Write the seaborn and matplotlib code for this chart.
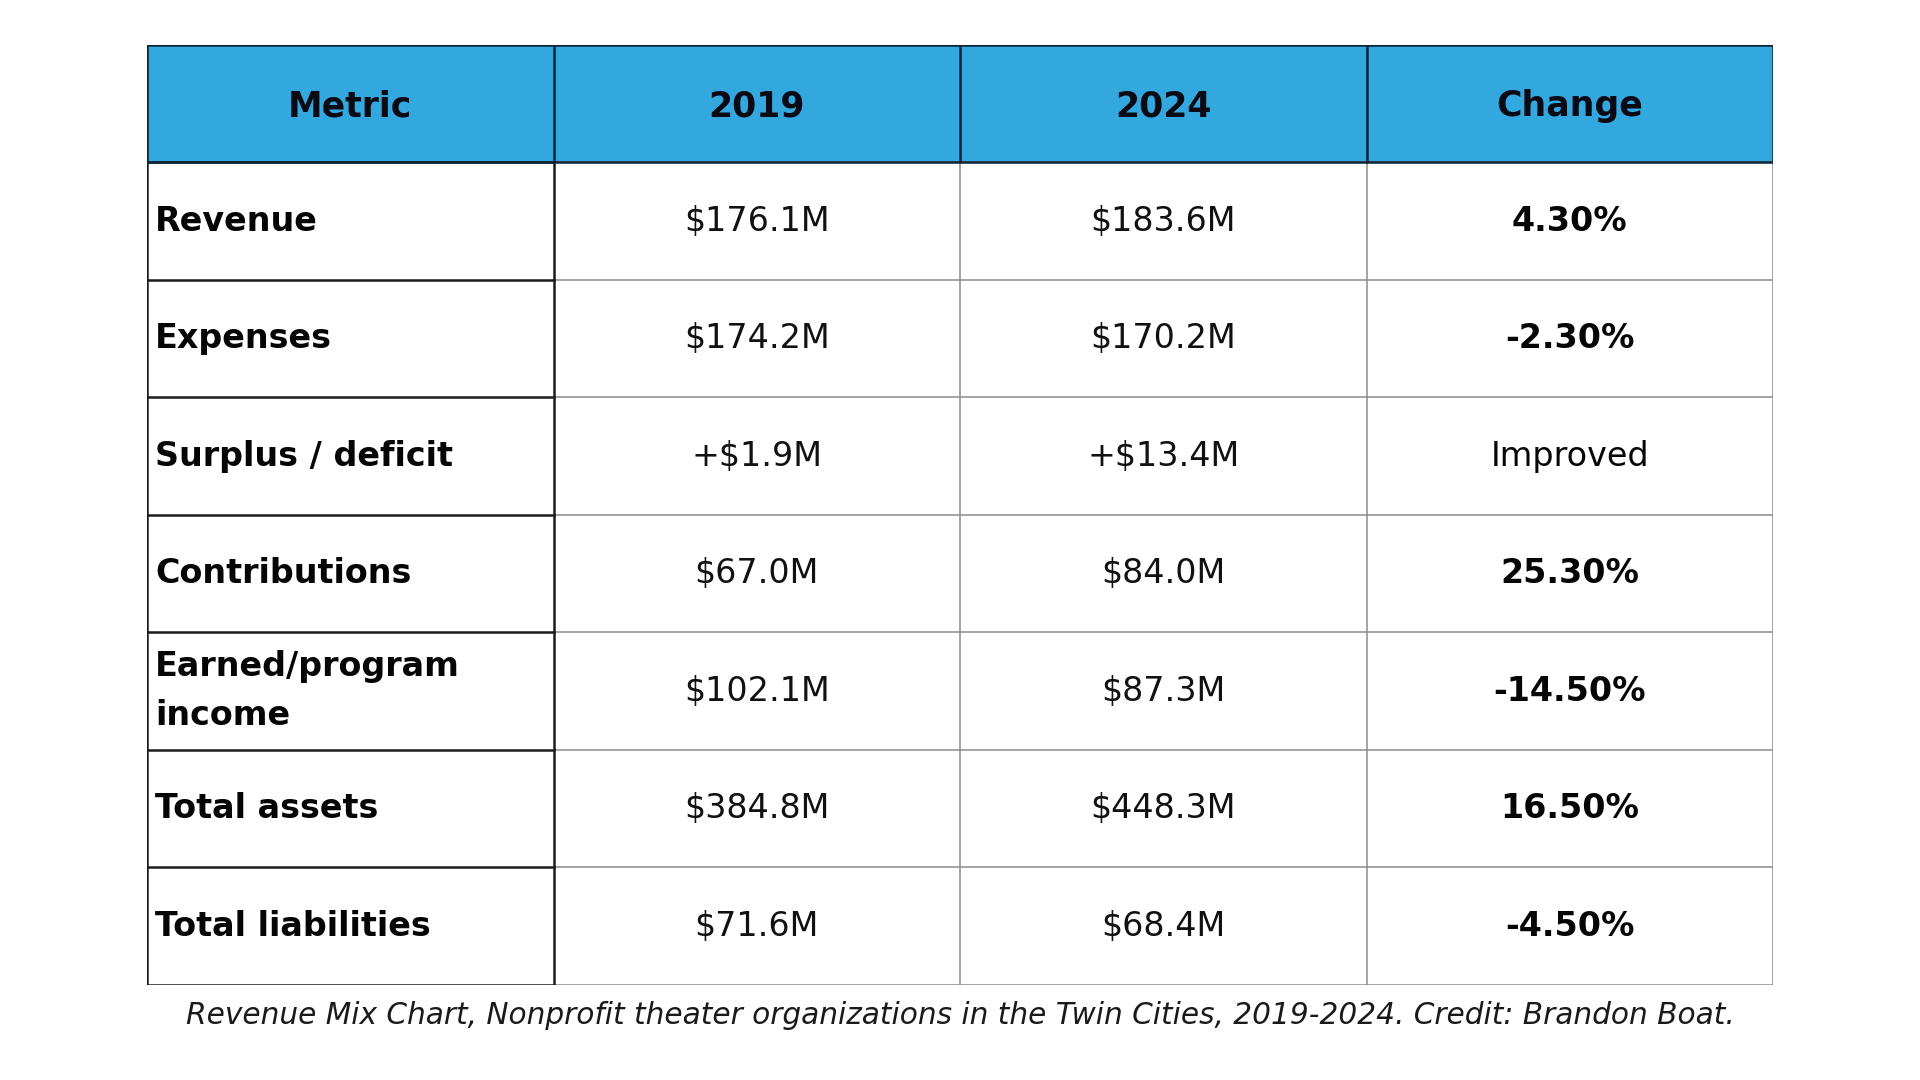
import numpy as np
import seaborn as sns
from matplotlib import pyplot as plt
from matplotlib.colors import ListedColormap

# table contents
headers = ["Metric", "2019", "2024", "Change"]
metrics = ["Revenue", "Expenses", "Surplus / deficit", "Contributions",
           "Earned/program\nincome", "Total assets", "Total liabilities"]
values_2019 = ["$176.1M", "$174.2M", "+$1.9M", "$67.0M", "$102.1M", "$384.8M", "$71.6M"]
values_2024 = ["$183.6M", "$170.2M", "+$13.4M", "$84.0M", "$87.3M", "$448.3M", "$68.4M"]
changes = ["4.30%", "-2.30%", "Improved", "25.30%", "-14.50%", "16.50%", "-4.50%"]
caption = ("Revenue Mix Chart, Nonprofit theater organizations in the Twin Cities, "
           "2019-2024. Credit: Brandon Boat.")

sns.set_theme(style="white")
plt.rcParams['font.family'] = ['DejaVu Sans']

n_rows = len(metrics) + 1
n_cols = len(headers)

# 1 = header cell (blue), 0 = body cell (white)
fill = np.zeros((n_rows, n_cols))
fill[0, :] = 1

fig = plt.figure(figsize=(19.2, 10.8), dpi=100)
ax = fig.add_axes([0.0766, 0.088, 0.8469, 0.8704])
sns.heatmap(fill, ax=ax, cmap=ListedColormap(["white", "#33A8DF"]),
            cbar=False, linewidths=0, xticklabels=False, yticklabels=False)

dark = "#1c1c1c"
gray = "#8c8c8c"
lw_dark = 1.8
lw_gray = 1.1

# gray grid for the value columns
for r in range(1, n_rows + 1):
    ax.plot([1, n_cols], [r, r], color=gray, lw=lw_gray, solid_capstyle="butt")
for c in range(2, n_cols + 1):
    ax.plot([c, c], [1, n_rows], color=gray, lw=lw_gray, solid_capstyle="butt")

# dark boxes around the metric column
for r in range(1, n_rows + 1):
    ax.plot([0, 1], [r, r], color=dark, lw=lw_dark, solid_capstyle="projecting")
ax.plot([0, 0], [1, n_rows], color=dark, lw=lw_dark, solid_capstyle="projecting")
ax.plot([1, 1], [1, n_rows], color=dark, lw=lw_dark, solid_capstyle="projecting")

# header box
head_col = "#0f2338"
ax.plot([0, n_cols, n_cols, 0, 0], [0, 0, 1, 1, 0], color=head_col, lw=lw_dark,
        solid_joinstyle="miter")
for c in range(1, n_cols):
    ax.plot([c, c], [0, 1], color=head_col, lw=lw_dark)

fs = 24
for c, h in enumerate(headers):
    ax.text(c + 0.5, 0.52, h, ha="center", va="center", fontsize=fs + 1,
            fontweight="bold", color="#0a0a14")

for i in range(len(metrics)):
    r = i + 1.5
    ax.text(0.02, r, metrics[i], ha="left", va="center", fontsize=fs,
            fontweight="bold", color="#050505", linespacing=1.6)
    ax.text(1.5, r, values_2019[i], ha="center", va="center", fontsize=fs,
            color="#111111")
    ax.text(2.5, r, values_2024[i], ha="center", va="center", fontsize=fs,
            color="#111111")
    is_pct = changes[i].endswith("%")
    ax.text(3.5, r, changes[i], ha="center", va="center", fontsize=fs,
            fontweight="bold" if is_pct else "normal", color="#050505")

for s in ax.spines.values():
    s.set_visible(False)

fig.text(0.5, 1 - 1016 / 1080, caption, ha="center", va="center",
         fontsize=21.3, style="italic", color="#1a1a1a")

fig.savefig("out.png", dpi=100, facecolor="white")
